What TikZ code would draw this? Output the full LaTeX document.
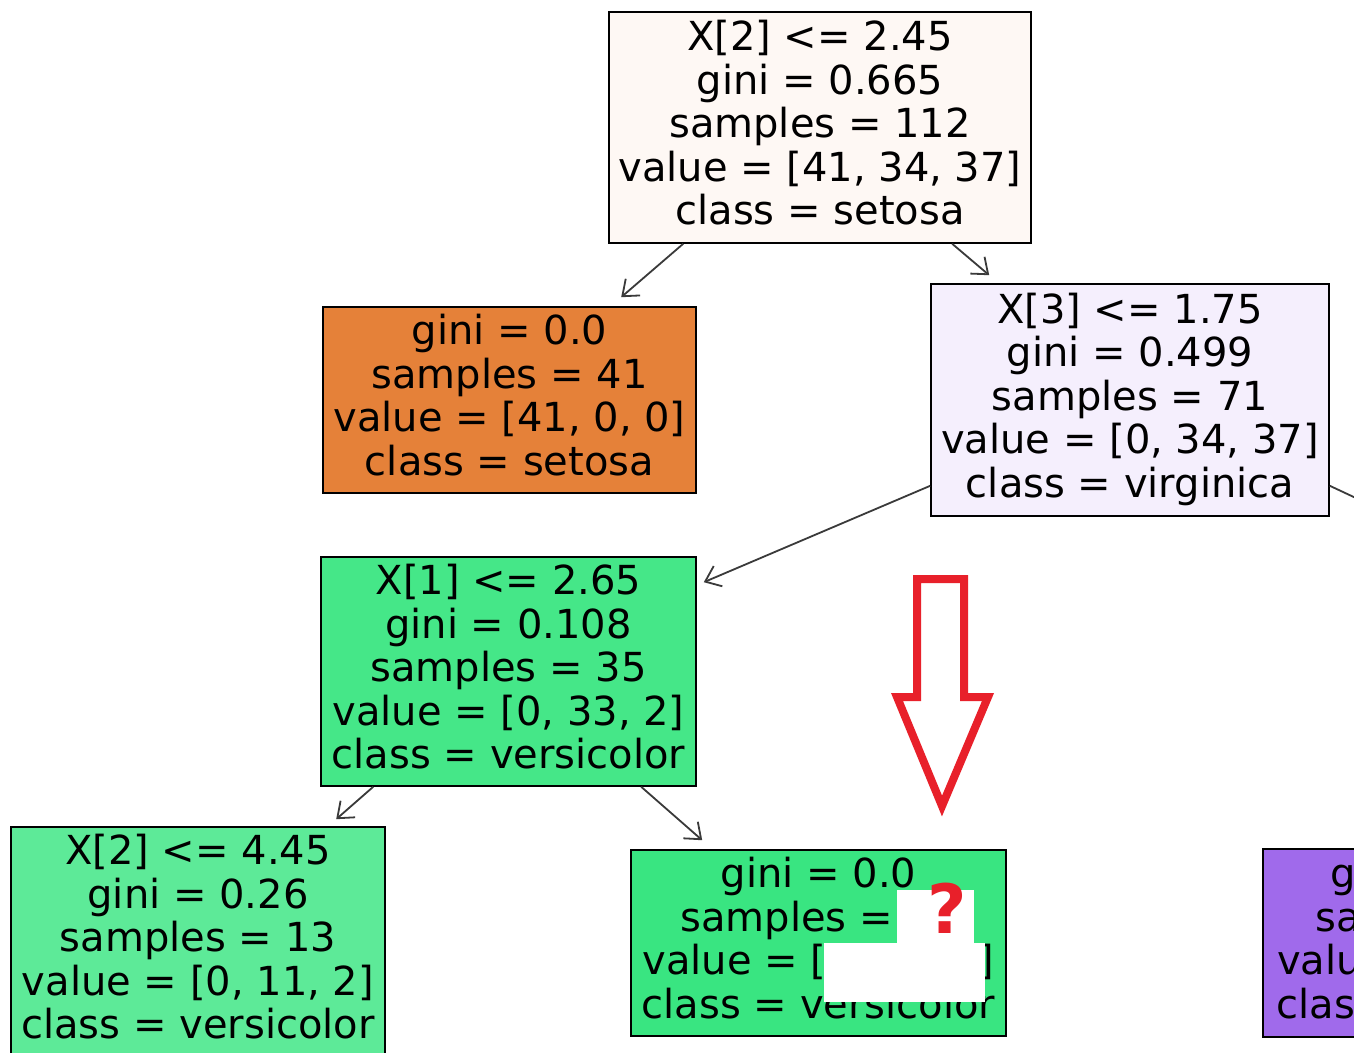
\documentclass[tikz,border=0pt]{standalone}
\usepackage{fontspec}
\setmainfont{DejaVu Sans}
\usetikzlibrary{arrows.meta}
\definecolor{rootc}{HTML}{FEF8F4}
\definecolor{setosac}{HTML}{E58139}
\definecolor{rightc}{HTML}{F5EFFD}
\definecolor{xonec}{HTML}{45E788}
\definecolor{xtwoc}{HTML}{5DEA98}
\definecolor{versic}{HTML}{39E581}
\definecolor{virgc}{HTML}{A06AEB}
\definecolor{edgec}{HTML}{3A3A3A}
\definecolor{markred}{HTML}{E8202A}
\begin{document}
\begin{tikzpicture}[x=1pt,y=-1pt,
  box/.style={draw=black,line width=1.6pt,inner sep=0pt,align=center,
    font=\fontsize{40}{43.5}\selectfont,
    execute at begin node={\rule{0pt}{32pt}},
    execute at end node={\rule[-10pt]{0pt}{1pt}}},
  edge/.style={draw=edgec,line width=1.8pt,-{Straight Barb[length=14pt,width=22pt]}},
  plainedge/.style={draw=edgec,line width=1.8pt},
  bigarrow/.style={draw=markred,line width=8pt,fill=white,line join=miter}]
\useasboundingbox (0,0) rectangle (1354,1052);
\fill[white] (0,0) rectangle (1354,1052);

\node[box,fill=rootc,minimum width=422pt,minimum height=231pt] (root) at (820,127.5)
  {X[2] <= 2.45\\gini = 0.665\\samples = 112\\value = [41, 34, 37]\\class = setosa};
\node[box,fill=setosac,minimum width=373pt,minimum height=186pt] (left) at (509.5,400)
  {gini = 0.0\\samples = 41\\value = [41, 0, 0]\\class = setosa};
\node[box,fill=rightc,minimum width=398pt,minimum height=232pt] (right) at (1130,400)
  {X[3] <= 1.75\\gini = 0.499\\samples = 71\\value = [0, 34, 37]\\class = virginica};
\node[box,fill=xonec,minimum width=375pt,minimum height=229pt] (xone) at (508.5,671.5)
  {X[1] <= 2.65\\gini = 0.108\\samples = 35\\value = [0, 33, 2]\\class = versicolor};
\node[box,fill=xtwoc,minimum width=374pt,minimum height=229pt] (xtwo) at (198,941.5)
  {X[2] <= 4.45\\gini = 0.26\\samples = 13\\value = [0, 11, 2]\\class = versicolor};
\node[box,fill=versic,minimum width=375pt,minimum height=186pt] (leaf) at (818.5,943)
  {gini = 0.0\\samples = 22\\value = [0, 22, 0]\\class = versicolor};
\node[box,fill=virgc,minimum width=355pt,minimum height=188pt] (virg) at (1440.5,943)
  {gini = 0.32\\samples = 5\\value = [0, 1, 4]\\class = virginica};
\coordinate (offnode) at (1420,528);

\draw[edge] ([xshift=75pt]root.south west) -- ([xshift=299pt,yshift=9pt]left.north west);
\draw[edge] ([xshift=344pt]root.south west) -- ([xshift=59pt,yshift=8pt]right.north west);
\draw[edge] ([yshift=31pt]right.south west) -- ([xshift=7pt,yshift=-26pt]xone.north east);
\draw[plainedge] ([yshift=31pt]right.south east) -- (offnode);
\draw[edge] ([xshift=53pt]xone.south west) -- ([xshift=326pt,yshift=7pt]xtwo.north west);
\draw[edge] ([xshift=321pt]xone.south west) -- ([xshift=72pt,yshift=9pt]leaf.north west);

% cover patches
\fill[white] (897,890) rectangle (974,944);
\fill[white] (824,943) rectangle (985,1002);
\node[text=markred,font=\fontsize{68}{70}\bfseries,inner sep=0pt] (qmark) at (947,908) {?};

% red outlined arrow
\draw[bigarrow] (917,579) -- (964,579) -- (964,697) -- (988,697) -- (942,806) -- (897,697) -- (917,697) -- cycle;
\end{tikzpicture}
\end{document}
